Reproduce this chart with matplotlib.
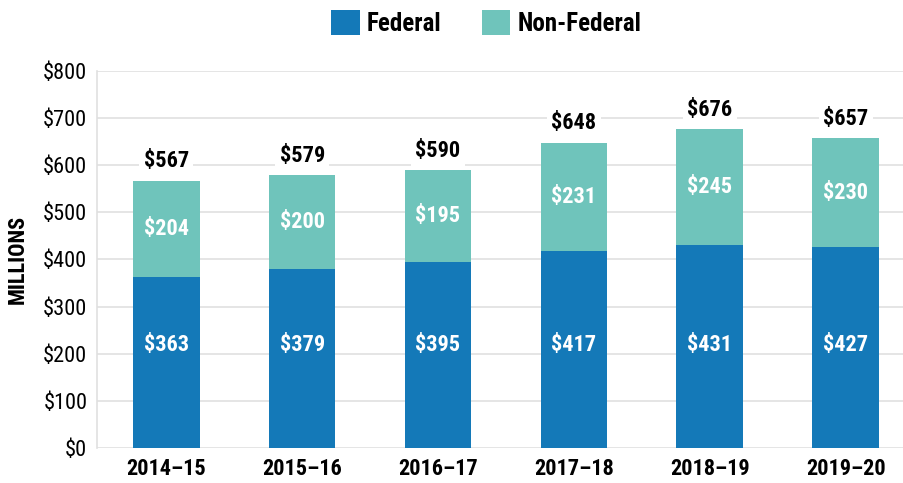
import matplotlib.pyplot as plt
import numpy as np

years = ['2014\u201315', '2015\u201316', '2016\u201317', '2017\u201318', '2018\u201319', '2019\u201320']
federal = [363, 379, 395, 417, 431, 427]
non_federal = [204, 200, 195, 231, 245, 230]
totals = [567, 579, 590, 648, 676, 657]

plt.rcParams['font.family'] = ['Roboto Condensed', 'DejaVu Sans']

blue = '#1479b8'
teal = '#6fc4bb'

fig = plt.figure(figsize=(9.04, 4.83), dpi=100)
ax = fig.add_axes([0.1073, 0.0725, 0.8927, 0.7805])

x = np.arange(len(years))
ax.bar(x, federal, width=0.49, color=blue, label='Federal', zorder=2)
ax.bar(x, non_federal, width=0.49, bottom=federal, color=teal, label='Non-Federal', zorder=2)

# federal labels sit at one common height in the original
fed_label_y = 219
for i in range(len(years)):
    ax.text(x[i], fed_label_y, '$' + str(federal[i]), ha='center', va='center',
            color='white', fontsize=16, fontweight='bold', zorder=3)
    ax.text(x[i], federal[i] + non_federal[i] / 2, '$' + str(non_federal[i]), ha='center',
            va='center', color='white', fontsize=16, fontweight='bold', zorder=3)
    ax.annotate('$' + str(totals[i]), (x[i], totals[i]), xytext=(0, 14), textcoords='offset points',
                ha='center', va='center', fontsize=16, fontweight='bold', zorder=3,
                bbox=dict(boxstyle='square,pad=0.2', fc='white', ec='none'))

ax.set_ylim(0, 800)
ax.set_xlim(-0.51, 5.43)
ax.set_yticks(range(0, 801, 100))
ax.set_yticklabels(['$' + str(v) for v in range(0, 801, 100)], fontsize=16)
ax.set_xticks(x)
ax.set_xticklabels(years, fontsize=16, fontweight='bold')
ax.tick_params(length=0, pad=7)
ax.grid(axis='y', color='#e0e0e0', linewidth=1.2, zorder=0)
for s in ['top', 'right', 'bottom']:
    ax.spines[s].set_visible(False)
ax.spines['left'].set_color('#e0e0e0')
ax.spines['left'].set_linewidth(1.2)
ax.set_ylabel('MILLIONS', fontsize=16, fontweight='bold', labelpad=10)

fig.legend(loc='center', bbox_to_anchor=(0.538, 0.952), ncol=2, frameon=False,
           handlelength=1.15, handleheight=1.15, columnspacing=1.6,
           handletextpad=0.3, prop={'weight': 'bold', 'size': 18})

fig.savefig('out.png', dpi=100)
